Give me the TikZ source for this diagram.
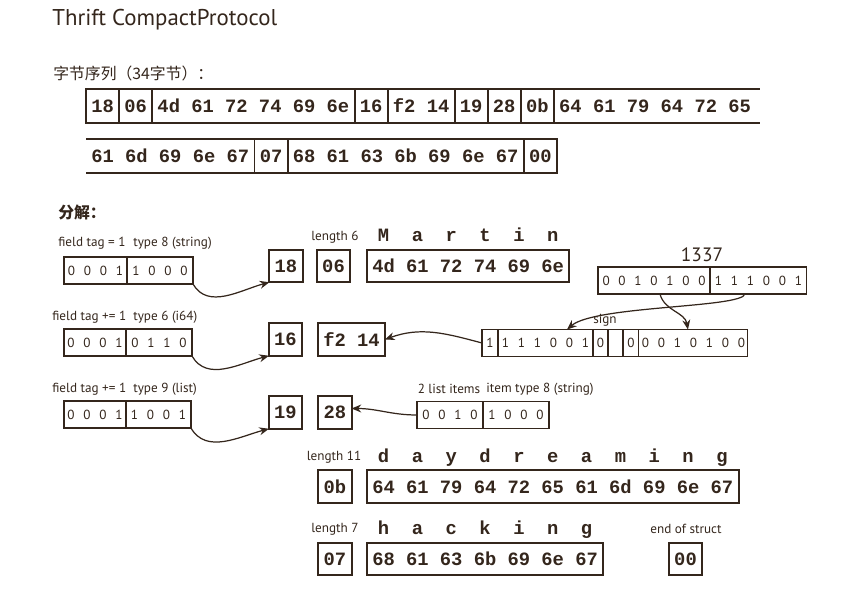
\documentclass[tikz,border=0pt]{standalone}
\usepackage{fontspec}
\setmainfont{PT Sans}
\setsansfont{PT Sans}
\setmonofont{Liberation Mono}
\newfontfamily\cjkfont{Noto Sans CJK SC}
\usetikzlibrary{arrows.meta, positioning}

\definecolor{ink}{RGB}{52,38,28}
\newcommand\hexfont{\ttfamily\bfseries\fontsize{10.7}{12}\selectfont}
\newcommand\bitfont{\sffamily\fontsize{7.5}{9}\selectfont\spaceskip=5pt\relax}

\begin{document}
\begin{tikzpicture}[x=0.02cm, y=-0.02cm, color=ink, >={Stealth[length=5.5pt, width=4.5pt]},
    hexcell/.style={font=\hexfont, minimum height=0.68cm, inner xsep=3pt,
                    inner ysep=0pt, outer sep=0pt, line width=1.1pt},
    bytebox/.style={draw, font=\hexfont, minimum height=0.65cm, inner xsep=3pt,
                    inner ysep=0pt, outer sep=0pt, line width=1.1pt},
    bitcell/.style={draw, font=\bitfont, minimum width=#1, minimum height=0.54cm,
                    inner sep=0pt, outer sep=0pt, line width=0.6pt},
    lbl/.style={font=\fontsize{7.5}{9}\selectfont, inner sep=0pt},
    word/.style={font=\hexfont, inner sep=0pt, anchor=base},
    arr/.style={->, line width=0.7pt}]
  \useasboundingbox (0,0) rectangle (843,598);

  % heading
  \node[font=\fontsize{13}{15}\selectfont, inner sep=0pt, anchor=west] (title) at (52,20) {Thrift CompactProtocol};
  \node[font=\cjkfont\fontsize{9}{11}\selectfont, inner sep=0pt, anchor=west] (seqlbl) at (53,73) {字节序列（34字节）：};

  % the byte sequence, first line (open on the right)
  \node[hexcell, draw, anchor=west] (r1a) at (86,106) {18};
  \node[hexcell, draw, right=0pt of r1a] (r1b) {06};
  \node[hexcell, draw, right=0pt of r1b] (r1c) {4d 61 72 74 69 6e};
  \node[hexcell, draw, right=0pt of r1c] (r1d) {16};
  \node[hexcell, draw, right=0pt of r1d] (r1e) {f2 14};
  \node[hexcell, draw, right=0pt of r1e] (r1f) {19};
  \node[hexcell, draw, right=0pt of r1f] (r1g) {28};
  \node[hexcell, draw, right=0pt of r1g] (r1h) {0b};
  \node[hexcell, right=0pt of r1h] (r1i) {64 61 79 64 72 65};
  \coordinate (r1end) at (760,106);
  \draw[line width=1.1pt] (r1i.north west) -- (r1i.north west -| r1end)
                          (r1i.south west) -- (r1i.south west -| r1end);

  % second line (open on the left)
  \node[hexcell, anchor=west] (r2a) at (86,156) {61 6d 69 6e 67};
  \draw[line width=1.1pt] (r2a.north west) -- (r2a.north east)
                          (r2a.south west) -- (r2a.south east);
  \node[hexcell, draw, right=0pt of r2a] (r2b) {07};
  \node[hexcell, draw, right=0pt of r2b] (r2c) {68 61 63 6b 69 6e 67};
  \node[hexcell, draw, right=0pt of r2c] (r2d) {00};

  \node[font=\cjkfont\bfseries\fontsize{9}{11}\selectfont, inner sep=0pt, anchor=west] (parts) at (58,213) {分解：};

  % field 1: userName
  \node[lbl, anchor=west] (tagA) at (58,243) {field tag = 1};
  \node[lbl, anchor=west] (typA) at (133,243) {type 8 (string)};
  \node[bitcell=1.26cm, anchor=west] (bitA1) at (64,270.5) {0 0 0 1};
  \node[bitcell=1.32cm, right=0pt of bitA1] (bitA2) {1 0 0 0};
  \node[bytebox] (b18) at (286,266) {18};
  \node[lbl] (len6) at (335,237) {length 6};
  \node[bytebox] (b06) at (333.5,266) {06};
  \node[bytebox, anchor=west] (bMartin) at (367,266) {4d 61 72 74 69 6e};
  \node[word] (wMartin) at ([yshift=0.16cm]bMartin.north) {M~~a~~r~~t~~i~~n};
  \draw[arr] (bitA2.south east) to[out=-60, in=195] (b18.south west);

  % field 2: favoriteNumber
  \node[lbl, anchor=west] (tagB) at (52,317) {field tag += 1};
  \node[lbl, anchor=west] (typB) at (133,317) {type 6 (i64)};
  \node[bitcell=1.24cm, anchor=west] (bitB1) at (64,342.5) {0 0 0 1};
  \node[bitcell=1.32cm, right=0pt of bitB1] (bitB2) {0 1 1 0};
  \node[bytebox] (b16) at (285.5,339.5) {16};
  \node[bytebox, anchor=west] (bf2) at (318,339.5) {f2 14};
  \draw[arr] (bitB2.south east) to[out=-60, in=195] (b16.south west);

  % 1337 as zigzag varint
  \node[font=\fontsize{11}{13}\selectfont, inner sep=0pt] (n1337) at (702,255) {1337};
  \node[bitcell=2.24cm, anchor=west] (r1337a) at (598,280.5) {0 0 1 0 1 0 0};
  \node[bitcell=1.94cm, right=0pt of r1337a] (r1337b) {1 1 1 0 0 1};
  \node[bitcell=0.32cm, anchor=west] (lb1) at (482,343) {1};
  \node[bitcell=1.90cm, right=0pt of lb1] (lb2) {1 1 1 0 0 1};
  \node[bitcell=0.30cm, right=0pt of lb2] (lb3) {0};
  \node[bitcell=0.30cm, right=0pt of lb3] (lb4) {};
  \node[bitcell=0.32cm, right=0pt of lb4] (lb5) {0};
  \node[bitcell=2.18cm, right=0pt of lb5] (lb6) {0 0 1 0 1 0 0};
  \node[lbl] (sign) at (605,320) {sign};
  \draw[arr] ([xshift=-0.27cm]r1337b.south) .. controls +(-3,14) and +(28,-24) .. ([xshift=0.43cm]lb2.north);
  \draw[arr] ([xshift=0.12cm]r1337a.south) to[out=-75, in=100] ([xshift=-0.11cm]lb6.north);
  \draw[arr] (lb1.west) to[out=165, in=20] (bf2.east);

  % field 3: interests
  \node[lbl, anchor=west] (tagC) at (52,389) {field tag += 1};
  \node[lbl, anchor=west] (typC) at (133,389) {type 9 (list)};
  \node[bitcell=1.24cm, anchor=west] (bitC1) at (64,414.5) {0 0 0 1};
  \node[bitcell=1.30cm, right=0pt of bitC1] (bitC2) {1 0 0 1};
  \node[bytebox] (b19) at (285.5,412.5) {19};
  \node[bytebox] (b28) at (335,412.5) {28};
  \draw[arr] (bitC2.south east) to[out=-60, in=195] (b19.south west);
  \node[lbl] (nitems) at (449,389) {2 list items};
  \node[lbl] (ityp) at (540,389) {item type 8 (string)};
  \node[bitcell=1.32cm, anchor=west] (lst1) at (417,415) {0 0 1 0};
  \node[bitcell=1.32cm, right=0pt of lst1] (lst2) {1 0 0 0};
  \draw[arr] (lst1.west) to[out=180, in=0] ([yshift=0.08cm]b28.east);

  % list items
  \node[lbl] (len11) at (334,457) {length 11};
  \node[bytebox] (b0b) at (335,486.5) {0b};
  \node[bytebox, anchor=west] (bday) at (367,486.5) {64 61 79 64 72 65 61 6d 69 6e 67};
  \node[word] (wday) at ([yshift=0.16cm]bday.north) {d~~a~~y~~d~~r~~e~~a~~m~~i~~n~~g};

  \node[lbl] (len7) at (335,529) {length 7};
  \node[bytebox] (b07) at (335,559) {07};
  \node[bytebox, anchor=west] (bhack) at (367,559) {68 61 63 6b 69 6e 67};
  \node[word] (whack) at ([yshift=0.16cm]bhack.north) {h~~a~~c~~k~~i~~n~~g};
  \node[lbl] (eos) at (686,529) {end of struct};
  \node[bytebox] (b00) at (685.5,559) {00};
\end{tikzpicture}
\end{document}
